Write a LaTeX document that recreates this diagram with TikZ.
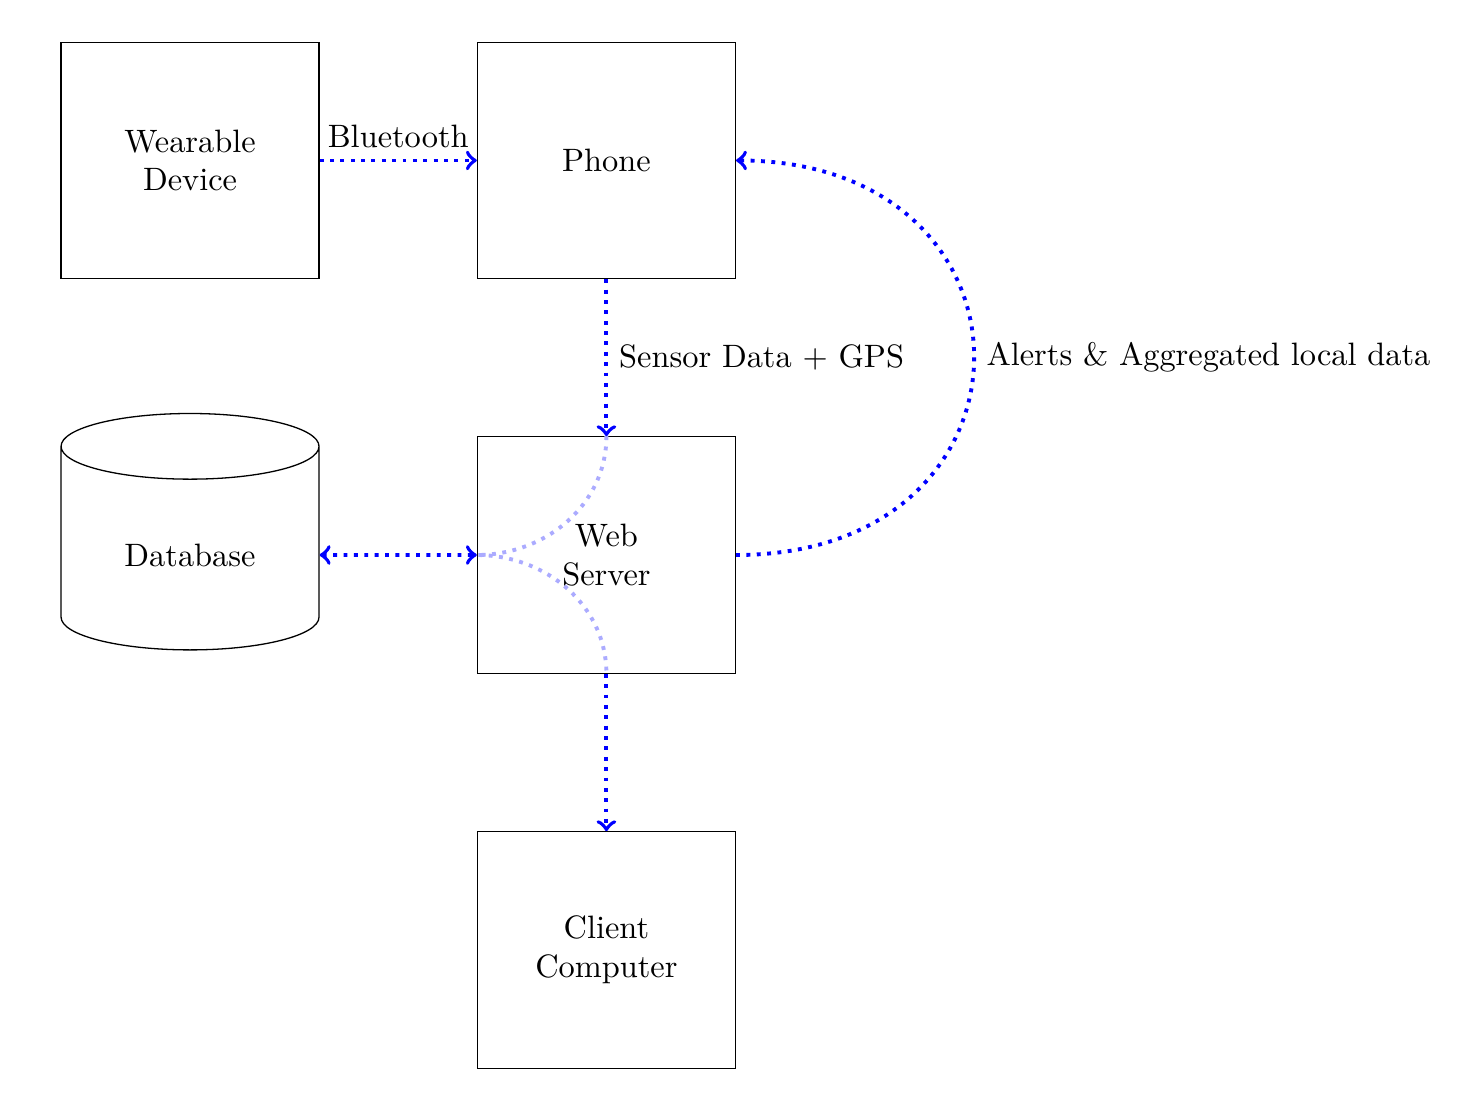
\documentclass[tikz,border=0pt]{standalone}
\usetikzlibrary{shapes.geometric}

\begin{document}
\begin{tikzpicture}[
    box/.style={draw, minimum width=2.799cm, minimum height=2.565cm, align=center},
    link/.style={blue, text=black, very thick, dotted},
    faded/.style={blue!33, very thick, dotted}]

    \useasboundingbox (0,0) rectangle (15.82,-12.12);

    \node [box] (wearable) at (2.062,-1.741) {Wearable\\Device};
    \node [box] (phone) at (6.58,-1.741) {Phone};
    \node [box] (server) at (6.58,-6.022) {Web\\Server};
    \node [box] (client) at (6.58,-10.308) {Client\\Computer};
    \node [draw, cylinder, shape border rotate=90, aspect=0.43,
        minimum width=2.799cm, minimum height=2.565cm] (database) at (2.062,-6.022) {Database};

    \draw [faded] (server.north) to [out=-90, in=0] (server.west)
        to [out=0, in=90] (server.south);

    \draw [link, ->] (wearable) -- node [above] {Bluetooth} (phone);
    \draw [link, ->] (phone) -- node [right] {Sensor Data + GPS} (server);
    \draw [link, <->] (database) -- (server);
    \draw [link, ->] (server) -- (client);
    \draw [link, ->] (server.east) to [out=0, in=0, looseness=2.06]
        node [right] {Alerts \& Aggregated local data} (phone.east);
\end{tikzpicture}
\end{document}
